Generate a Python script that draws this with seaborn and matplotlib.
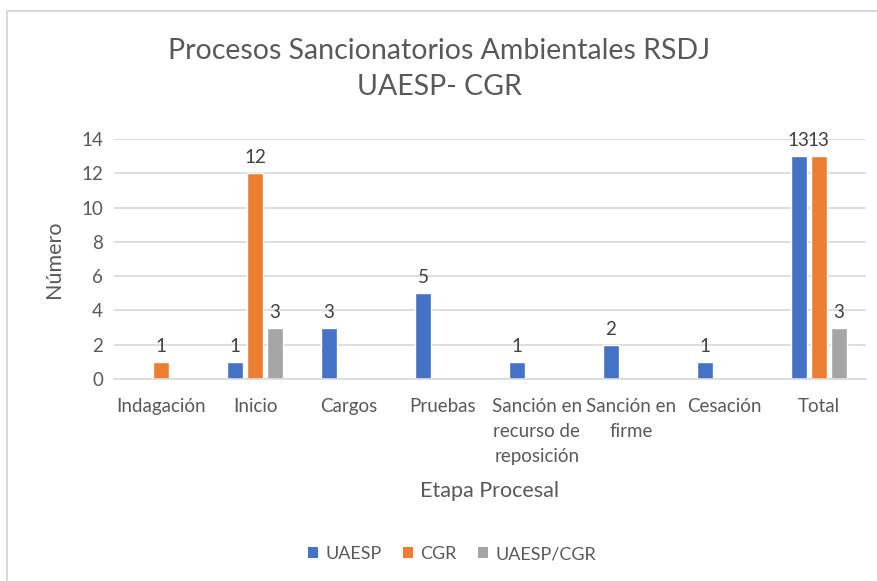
import numpy as np
import pandas as pd
import matplotlib
matplotlib.use('Agg')
import matplotlib.pyplot as plt
import seaborn as sns
from matplotlib.lines import Line2D
from matplotlib.patches import Patch

# Datos
etapas = ['Indagación', 'Inicio', 'Cargos', 'Pruebas', 'Sanción en\nrecurso de\nreposición',
          'Sanción en\nfirme', 'Cesación', 'Total']
uaesp = [np.nan, 1, 3, 5, 1, 2, 1, 13]
cgr = [1, 12, np.nan, np.nan, np.nan, np.nan, np.nan, 13]
uaesp_cgr = [np.nan, 3, np.nan, np.nan, np.nan, np.nan, np.nan, 3]
series = ['UAESP', 'CGR', 'UAESP/CGR']
colores = ['#4472C4', '#ED7D31', '#A5A5A5']

df = pd.DataFrame({'etapa': etapas * 3,
                   'serie': [s for s in series for _ in etapas],
                   'valor': uaesp + cgr + uaesp_cgr})
df = df.dropna()

sns.set_style('white')
plt.rcParams['font.family'] = ['Lato', 'DejaVu Sans']
txt = '#595959'

fig = plt.figure(figsize=(8.78, 5.81), dpi=100)
ax = fig.add_axes([0.130, 0.3477, 0.856, 0.4131])

sns.barplot(data=df, x='etapa', y='valor', hue='serie', order=etapas, hue_order=series,
            palette=colores, width=0.638, gap=0.2, errorbar=None, saturation=1,
            ax=ax, legend=False)

for c in ax.containers:
    ax.bar_label(c, fmt='%g', padding=5, fontsize=13.5, color='#404040')

ax.set_ylim(0, 14)
ax.set_yticks(range(0, 15, 2))
ax.set_xlim(-0.5, len(etapas) - 0.5)
ax.yaxis.grid(True, color='#D9D9D9', linewidth=1.2)
ax.set_axisbelow(True)
for s in ['top', 'right', 'left']:
    ax.spines[s].set_visible(False)
ax.spines['bottom'].set_color('#D9D9D9')
ax.spines['bottom'].set_linewidth(1.2)
ax.tick_params(axis='both', length=0, labelsize=13.5, labelcolor=txt)
ax.tick_params(axis='x', pad=14)
ax.tick_params(axis='y', pad=8)
for t in ax.get_xticklabels():
    t.set_linespacing(1.55)

ax.set_xlabel('Etapa Procesal', fontsize=15.5, color=txt, labelpad=12)
ax.set_ylabel('Número', fontsize=15.5, color=txt, labelpad=12)

fig.suptitle('Procesos Sancionatorios Ambientales RSDJ\nUAESP- CGR', fontsize=20.5, color=txt,
             y=0.935, linespacing=1.5)

handles = [Patch(facecolor=c, edgecolor='none') for c in colores]
fig.legend(handles, series, loc='center', bbox_to_anchor=(0.515, 0.046), ncol=3, frameon=False,
           fontsize=13, labelcolor=txt, handlelength=0.55, handleheight=0.55,
           handletextpad=0.4, columnspacing=1.2)

# Borde del grafico
fig.add_artist(Line2D([7 / 878, 1], [1 - 11 / 581, 1 - 11 / 581], transform=fig.transFigure,
                      color='#D9D9D9', linewidth=1.5))
fig.add_artist(Line2D([7 / 878, 7 / 878], [0, 1 - 11 / 581], transform=fig.transFigure,
                      color='#D9D9D9', linewidth=1.5))

fig.savefig('out.png', dpi=100)
